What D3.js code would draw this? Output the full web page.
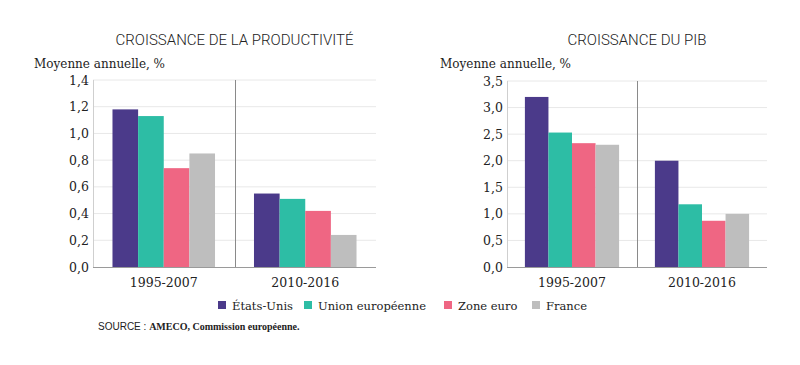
<!DOCTYPE html>
<html><head><meta charset="utf-8">
<script src="https://cdn.jsdelivr.net/npm/d3@7"></script>
<style>body{margin:0;background:#fff}svg{display:block}</style>
</head><body>
<svg id="c" width="800" height="365"></svg>
<script>
const periods = ["1995-2007", "2010-2016"];
const series = ["États-Unis", "Union européenne", "Zone euro", "France"];
const colors = ["#4b3a8a", "#2dbda5", "#ef6683", "#bebebe"];
const productivite = [[1.18, 1.13, 0.74, 0.85], [0.55, 0.51, 0.42, 0.24]];
const pib = [[3.2, 2.53, 2.33, 2.3], [2.0, 1.18, 0.87, 1.0]];
const prodTicks = [0, 0.2, 0.4, 0.6, 0.8, 1.0, 1.2, 1.4];
const pibTicks = [0, 0.5, 1.0, 1.5, 2.0, 2.5, 3.0, 3.5];

const svg = d3.select("#c");
const serif = "'DejaVu Serif', serif";
const sans = "Roboto, 'Liberation Sans', sans-serif";
const fmt1 = v => v.toFixed(1).replace(".", ",");

function chart(o) {
  const g = svg.append("g");
  const y = d3.scaleLinear().domain([0, o.max]).range([o.bottom, o.top]);
  const x0 = d3.scaleBand().domain(periods).range([o.left, o.right]).padding(0);
  const x1 = d3.scaleBand().domain(series).range([0, x0.bandwidth()]).paddingInner(0).paddingOuter(0.76);
  g.selectAll(".grid").data(o.ticks.filter(t => t > 0)).join("line")
    .attr("x1", o.left).attr("x2", o.right)
    .attr("y1", d => y(d)).attr("y2", d => y(d))
    .attr("stroke", "#e8e8e8").attr("stroke-width", 1);
  g.append("line").attr("x1", o.left + 0.5).attr("x2", o.left + 0.5)
    .attr("y1", y(o.max)).attr("y2", y(0)).attr("stroke", "#cfcfcf");
  periods.forEach((p, i) => {
    g.selectAll(null).data(o.data[i]).join("rect")
      .attr("x", (d, j) => x0(p) + x1(series[j]))
      .attr("width", x1.bandwidth())
      .attr("y", d => y(d)).attr("height", d => y(0) - y(d))
      .attr("fill", (d, j) => colors[j]);
  });
  const dx = Math.round(x0(periods[1])) + 0.5;
  g.append("line").attr("x1", dx).attr("x2", dx)
    .attr("y1", y(o.max)).attr("y2", y(0)).attr("stroke", "#8a8a8a");
  g.append("line").attr("x1", o.left).attr("x2", o.right)
    .attr("y1", y(0) + 0.5).attr("y2", y(0) + 0.5).attr("stroke", "#9a9a9a").attr("stroke-width", 1.2);
  g.selectAll(".tl").data(o.ticks).join("text")
    .attr("x", o.left - 4).attr("y", d => y(d) + 4.5)
    .attr("text-anchor", "end").attr("font-family", serif).attr("font-size", 12.5)
    .attr("fill", "#222").text(fmt1);
  g.selectAll(".cl").data(periods).join("text")
    .attr("x", d => x0(d) + x0.bandwidth() / 2).attr("y", o.bottom + 20)
    .attr("text-anchor", "middle").attr("font-family", serif).attr("font-size", 12.5)
    .attr("fill", "#222").text(d => d);
  g.append("text").attr("x", o.ylabX).attr("y", 68)
    .attr("font-family", serif).attr("font-size", 12).attr("fill", "#222")
    .text("Moyenne annuelle, %");
  g.append("text").attr("x", (o.left + o.right) / 2).attr("y", 45)
    .attr("text-anchor", "middle").attr("font-family", sans).attr("font-weight", 300)
    .attr("font-size", 15).attr("fill", "#222").text(o.title);
}

chart({left: 93, right: 376, top: 80, bottom: 267, max: 1.4, ticks: prodTicks, data: productivite,
       title: "CROISSANCE DE LA PRODUCTIVITÉ", ylabX: 34});
chart({left: 507, right: 767, top: 81, bottom: 267, max: 3.5, ticks: pibTicks, data: pib,
       title: "CROISSANCE DU PIB", ylabX: 440});

const legX = [218, 304, 444, 532];
const lg = svg.append("g");
series.forEach((s, i) => {
  lg.append("rect").attr("x", legX[i]).attr("y", 301).attr("width", 8).attr("height", 8).attr("fill", colors[i]);
  lg.append("text").attr("x", legX[i] + 14).attr("y", 309.5)
    .attr("font-family", serif).attr("font-size", 11.5).attr("fill", "#222").text(s);
});
const src = svg.append("text").attr("x", 98).attr("y", 330).attr("font-size", 10).attr("fill", "#222");
src.append("tspan").attr("font-family", "'Liberation Sans Narrow', 'Liberation Sans', sans-serif").text("SOURCE : ");
src.append("tspan").attr("font-family", "'Liberation Serif', serif").attr("font-weight", "bold").text("AMECO, Commission européenne.");
</script>
</body></html>
